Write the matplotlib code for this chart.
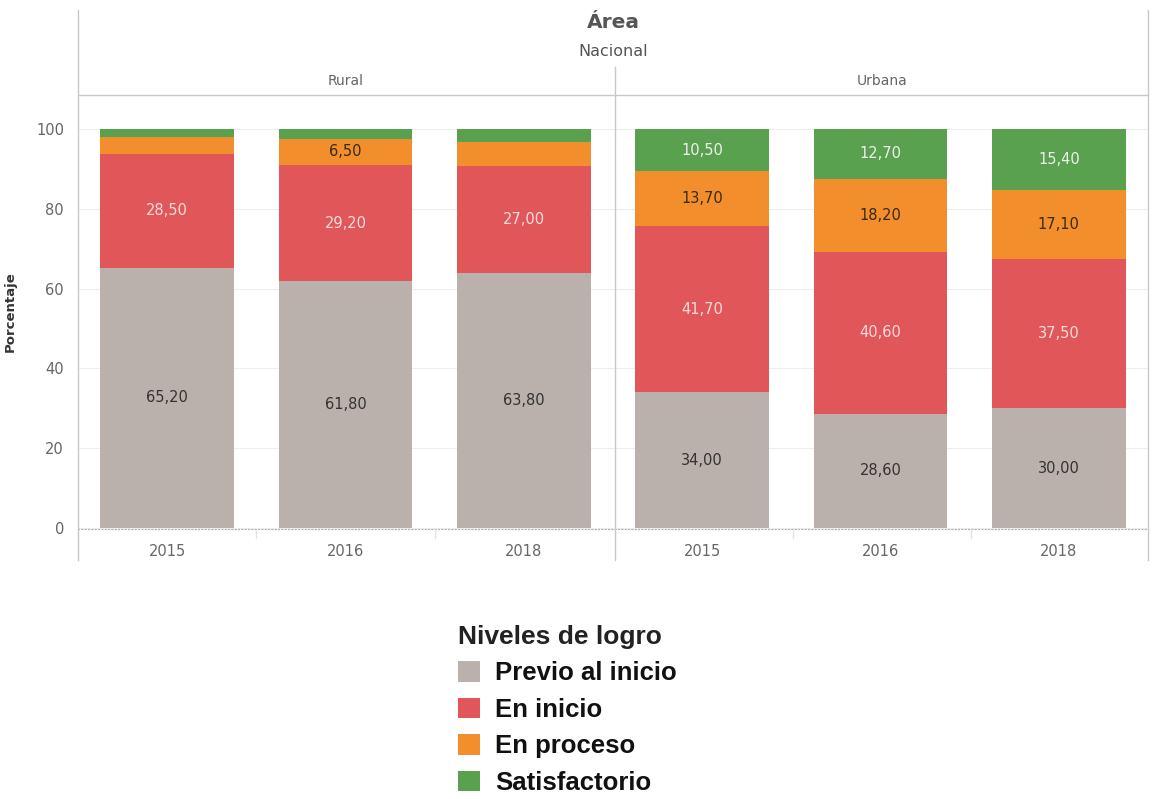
import matplotlib.pyplot as plt
from matplotlib.lines import Line2D
from matplotlib.patches import Patch

# data
areas = ["Rural", "Urbana"]
years = ["2015", "2016", "2018"]
niveles = ["Previo al inicio", "En inicio", "En proceso", "Satisfactorio"]

previo = [65.2, 61.8, 63.8, 34.0, 28.6, 30.0]
inicio = [28.5, 29.2, 27.0, 41.7, 40.6, 37.5]
proceso = [4.3, 6.5, 5.9, 13.7, 18.2, 17.1]
satisf = [2.0, 2.5, 3.3, 10.5, 12.7, 15.4]

# which segments carry a value label (the reference hides the small rural ones)
show_proceso = [False, True, False, True, True, True]
show_satisf = [False, False, False, True, True, True]

colors = ["#BAB0AC", "#E15759", "#F28E2B", "#59A14F"]
text_colors = ["#333333", "#F5DCDC", "#3a2a10", "#F0F0F0"]

W, H = 1152, 799
fig = plt.figure(figsize=(W / 100, H / 100), dpi=100)


def fx(x):
    return x / W


def fy(y):
    return 1 - y / H


ax = fig.add_axes([fx(78), fy(529), (1148 - 78) / W, (529 - 95) / H])

xs = list(range(len(previo)))
series = [previo, inicio, proceso, satisf]
shows = [[True] * 6, [True] * 6, show_proceso, show_satisf]
bottom = [0.0] * len(xs)
for vals, col, tcol, show in zip(series, colors, text_colors, shows):
    ax.bar(xs, vals, width=0.75, bottom=bottom, color=col, zorder=2)
    for i, v in enumerate(vals):
        if show[i]:
            ax.text(i, bottom[i] + v / 2, f"{v:.2f}".replace(".", ","),
                    ha="center", va="center", fontsize=10.5, color=tcol, zorder=3)
    bottom = [b + v for b, v in zip(bottom, vals)]

ax.set_xlim(-0.5, 5.5)
ax.set_ylim(-0.25, 108.5)
ax.set_yticks([0, 20, 40, 60, 80, 100])
ax.set_xticks(xs)
ax.set_xticklabels(years * 2)
ax.tick_params(axis="x", length=0, pad=11, labelsize=10.5, labelcolor="#666666")
ax.tick_params(axis="y", length=0, pad=10, labelsize=10.5, labelcolor="#666666")
ax.grid(axis="y", color="#eeeeee", linewidth=0.8, zorder=0)
for s in ["left", "right", "top"]:
    ax.spines[s].set_visible(False)
ax.spines["bottom"].set_linestyle((0, (1, 2)))
ax.spines["bottom"].set_color("#b0b0b0")
ax.set_ylabel("Porcentaje", fontsize=9.5, color="#333333", fontweight="semibold")
ax.yaxis.set_label_coords((17 - 78) / 1070, 0.5)

# panel frame lines (figure coordinates)
grey = "#c8c8c8"
for x0, y0, x1, y1 in [(78, 10, 78, 560), (615, 67, 615, 560), (1148, 10, 1148, 560),
                       (78, 95, 1148, 95)]:
    fig.add_artist(Line2D([fx(x0), fx(x1)], [fy(y0), fy(y1)], color=grey, linewidth=1))
# small separators between years on the axis
for xsep in [256, 435, 793, 971]:
    fig.add_artist(Line2D([fx(xsep), fx(xsep)], [fy(530), fy(538)], color="#e4e4e4", linewidth=1))

fig.text(fx(613), fy(22), "Área", ha="center", va="center", fontsize=14.5,
         fontweight="bold", color="#555555")
fig.text(fx(613), fy(52), "Nacional", ha="center", va="center", fontsize=11.5, color="#555555")
fig.text(fx(346), fy(81), areas[0], ha="center", va="center", fontsize=10, color="#666666")
fig.text(fx(882), fy(81), areas[1], ha="center", va="center", fontsize=10, color="#666666")

handles = [Patch(facecolor=c, edgecolor="none") for c in colors]
leg = fig.legend(handles, niveles, loc="upper left", bbox_to_anchor=(fx(445), fy(612)),
                 frameon=False, title="Niveles de logro", alignment="left",
                 prop={"family": "Liberation Sans", "weight": "bold", "size": 18.5},
                 title_fontproperties={"family": "Liberation Sans", "weight": "bold", "size": 19},
                 handlelength=0.85, handleheight=0.85, handletextpad=0.6,
                 labelspacing=0.48, borderpad=0)
for t in leg.get_texts():
    t.set_color("#111111")
leg.get_title().set_color("#222222")

fig.savefig("out.png", dpi=100)
